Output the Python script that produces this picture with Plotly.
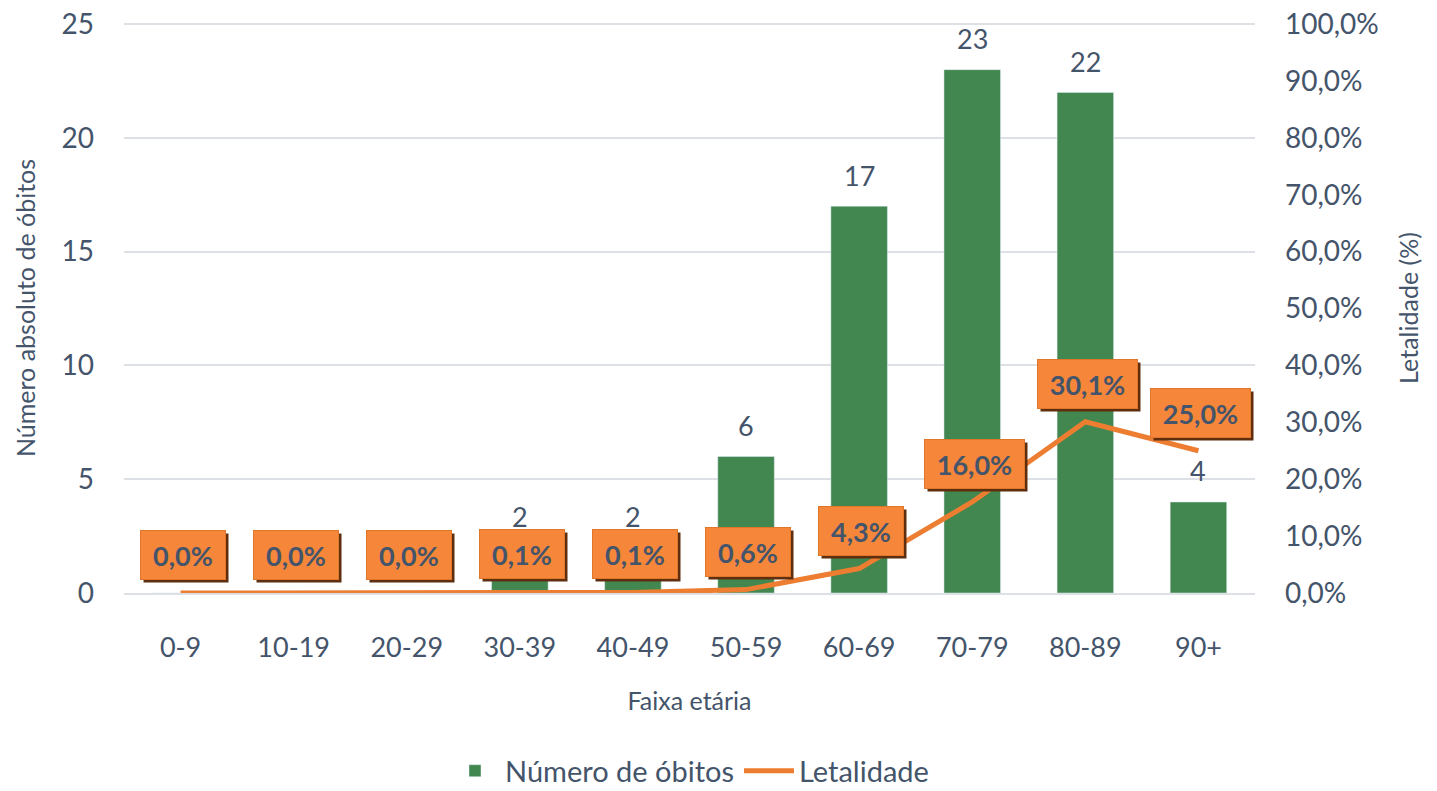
import plotly.graph_objects as go

faixas = ['0-9', '10-19', '20-29', '30-39', '40-49', '50-59', '60-69', '70-79', '80-89', '90+']
obitos = [0, 0, 0, 2, 2, 6, 17, 23, 22, 4]
letalidade = [0.0, 0.0, 0.0, 0.1, 0.1, 0.6, 4.3, 16.0, 30.1, 25.0]

FONT = 'Lato'
TXT = '#44546A'

fig = go.Figure()

fig.add_trace(go.Bar(
    x=faixas, y=obitos, name='Número de óbitos',
    marker_color='#42874F',
))

fig.add_trace(go.Scatter(
    x=faixas, y=letalidade, name='Letalidade', yaxis='y2',
    mode='lines', line=dict(color='#ED7D31', width=5),
))

# rótulos das barras (os zeros ficam escondidos atrás das caixas no original)
for f, v in zip(faixas, obitos):
    if v > 0:
        fig.add_annotation(x=f, y=v, text=str(v), showarrow=False, yshift=31,
                           font=dict(size=27, color=TXT, family=FONT))

# caixas laranja com sombra para os rótulos de letalidade
for f, v in zip(faixas, letalidade):
    lab = f'{v:.1f}%'.replace('.', ',')
    w = 15 * len(lab) + 20
    fig.add_annotation(x=f, y=v, yref='y2', text=' ', showarrow=False,
                       xshift=5, yshift=35, width=w, height=44, borderpad=2,
                       bgcolor='#5E2E0E')
    fig.add_annotation(x=f, y=v, yref='y2', text='<b>' + lab + '</b>', showarrow=False,
                       xshift=2, yshift=38, width=w, height=44, borderpad=2,
                       bgcolor='#F6873A', bordercolor='#E0762A', borderwidth=1,
                       font=dict(size=27, color=TXT, family=FONT))

# a página tem ~8px de margem no body, por isso as margens estão deslocadas
fig.update_layout(
    width=1437, height=791,
    paper_bgcolor='white', plot_bgcolor='white',
    margin=dict(l=116, r=190, t=15, b=206, autoexpand=False),
    bargap=0.5,
    separators=',.',
    font=dict(family=FONT, color=TXT),
    xaxis=dict(
        automargin=False,
        tickfont=dict(size=27, color=TXT), ticklabelstandoff=30,
        title=dict(text='Faixa etária', font=dict(size=25, color=TXT), standoff=30),
        showline=True, linecolor='#DDE1E6', linewidth=2,
    ),
    yaxis=dict(
        automargin=False, ticklabeloverflow='allow',
        range=[0, 25.05], dtick=5,
        tickfont=dict(size=28, color=TXT), ticklabelstandoff=29,
        gridcolor='#DDE1E6', gridwidth=2, zeroline=False,
        title=dict(text='Número absoluto de óbitos', font=dict(size=25, color=TXT), standoff=18),
    ),
    yaxis2=dict(
        automargin=False, ticklabeloverflow='allow',
        overlaying='y', side='right', range=[0, 100.2], dtick=10,
        ticksuffix='%', tickformat='.1f',
        tickfont=dict(size=28, color=TXT), ticklabelstandoff=29,
        showgrid=False, zeroline=False,
        title=dict(text='Letalidade (%)', font=dict(size=25, color=TXT), standoff=22),
    ),
    legend=dict(orientation='h', x=0.5, xanchor='center', y=-0.312, yanchor='middle',
                font=dict(size=29, color=TXT), itemwidth=50),
)

fig.write_html('out.html')
